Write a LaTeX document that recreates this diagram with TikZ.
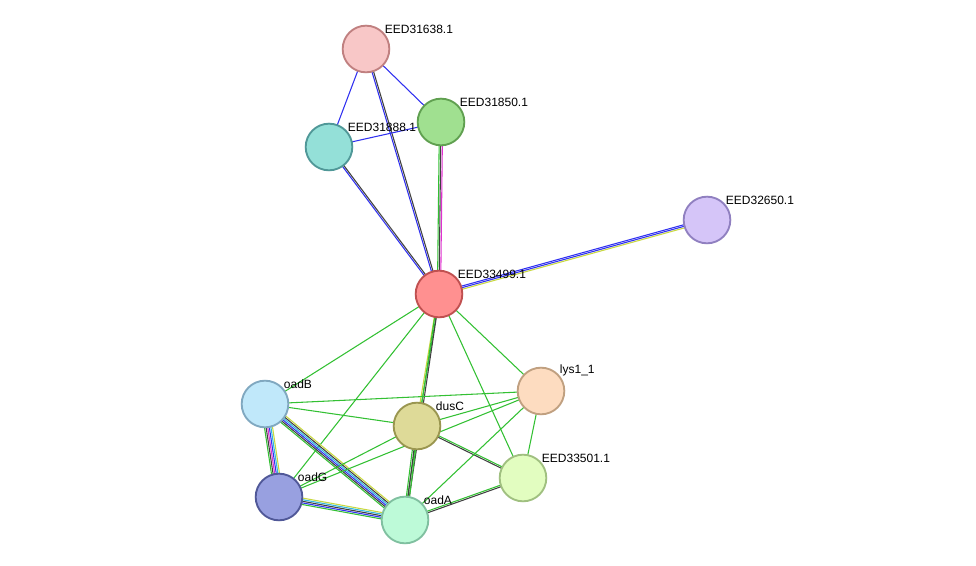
\documentclass[tikz,border=0pt]{standalone}
\usepackage{fontspec}
\setmainfont{Liberation Sans}
\usetikzlibrary{calc,backgrounds}
\definecolor{sgreen}{HTML}{33C033}
\definecolor{sblue}{HTML}{3030F0}
\definecolor{sgray}{HTML}{404040}
\definecolor{syg}{HTML}{C8D840}
\definecolor{scyan}{HTML}{30B8E0}
\definecolor{smag}{HTML}{E030D0}
\tikzset{
prot/.style={circle,draw,line width=1.4pt,minimum size=35pt,inner sep=0pt},
lbl/.style={font=\fontsize{9pt}{10pt}\selectfont,anchor=south west,inner sep=1pt}
}
% parallel lines between two nodes: #1 #2 nodes, #3 number of lines, #4 colours
\newcommand\bundle[4]{
  \foreach \c [count=\i] in {#4} {
    \pgfmathsetmacro\off{(\i-1-(#3-1)/2)*1.2}
    \draw[\c,line width=0.8pt] ($(#1)!\off pt!90:(#2)$) -- ($(#2)!\off pt!-90:(#1)$);
  }
}
\begin{document}
\begin{tikzpicture}[x=0.75pt,y=-0.75pt]
  \useasboundingbox (0,0) rectangle (976,566);

  \node[prot,fill={rgb,255:red,248;green,199;blue,199},draw={rgb,255:red,192;green,128;blue,128}] (e638) at (366,49) {};
  \node[prot,fill={rgb,255:red,160;green,224;blue,144},draw={rgb,255:red,96;green,160;blue,80}] (e850) at (441,122) {};
  \node[prot,fill={rgb,255:red,148;green,224;blue,216},draw={rgb,255:red,80;green,152;blue,152}] (e888) at (329,147) {};
  \node[prot,fill={rgb,255:red,213;green,197;blue,248},draw={rgb,255:red,144;green,128;blue,192}] (e650) at (707,220) {};
  \node[prot,fill={rgb,255:red,255;green,144;blue,144},draw={rgb,255:red,192;green,80;blue,80}] (e499) at (439,294) {};
  \node[prot,fill={rgb,255:red,192;green,232;blue,250},draw={rgb,255:red,128;green,168;blue,192}] (oadB) at (265,404) {};
  \node[prot,fill={rgb,255:red,222;green,218;blue,152},draw={rgb,255:red,154;green,150;blue,80}] (dusC) at (417,426) {};
  \node[prot,fill={rgb,255:red,253;green,220;blue,192},draw={rgb,255:red,192;green,160;blue,128}] (lys) at (541,391) {};
  \node[prot,fill={rgb,255:red,226;green,253;blue,192},draw={rgb,255:red,160;green,192;blue,128}] (e501) at (523,478) {};
  \node[prot,fill={rgb,255:red,152;green,160;blue,224},draw={rgb,255:red,80;green,88;blue,152}] (oadG) at (279,497) {};
  \node[prot,fill={rgb,255:red,189;green,250;blue,216},draw={rgb,255:red,128;green,192;blue,160}] (oadA) at (405,520) {};

  \node[lbl] at (e638.center) [xshift=13pt,yshift=10pt] {EED31638.1};
  \node[lbl] at (e850.center) [xshift=13pt,yshift=10pt] {EED31850.1};
  \node[lbl] at (e888.center) [xshift=13pt,yshift=10pt] {EED31888.1};
  \node[lbl] at (e650.center) [xshift=13pt,yshift=10pt] {EED32650.1};
  \node[lbl] at (e499.center) [xshift=13pt,yshift=10pt] {EED33499.1};
  \node[lbl] at (oadB.center) [xshift=13pt,yshift=10pt] {oadB};
  \node[lbl] at (dusC.center) [xshift=13pt,yshift=10pt] {dusC};
  \node[lbl] at (lys.center) [xshift=13pt,yshift=10pt] {lys1\_1};
  \node[lbl] at (e501.center) [xshift=13pt,yshift=10pt] {EED33501.1};
  \node[lbl] at (oadG.center) [xshift=13pt,yshift=10pt] {oadG};
  \node[lbl] at (oadA.center) [xshift=13pt,yshift=10pt] {oadA};

  \begin{scope}[on background layer]
    \bundle{e638}{e888}{1}{sblue}
    \bundle{e638}{e850}{1}{sblue}
    \bundle{e638}{e499}{2}{sblue,sgray}
    \bundle{e888}{e850}{1}{sblue}
    \bundle{e888}{e499}{2}{sblue,sgray}
    \bundle{e850}{e499}{3}{sgreen,sgray,smag}
    \bundle{e499}{e650}{3}{syg,sblue,sblue}
    \bundle{e499}{oadB}{1}{sgreen}
    \bundle{e499}{oadG}{1}{sgreen}
    \bundle{e499}{lys}{1}{sgreen}
    \bundle{e499}{e501}{1}{sgreen}
    \bundle{e499}{dusC}{2}{syg,sgreen}
    \bundle{e499}{oadA}{2}{sgreen,sgray}
    \bundle{oadB}{lys}{1}{sgreen}
    \bundle{oadB}{dusC}{1}{sgreen}
    \bundle{oadB}{oadG}{6}{sgreen,sgray,smag,sblue,scyan,syg}
    \bundle{oadB}{oadA}{6}{sgreen,sgray,sblue,scyan,sgray,syg}
    \bundle{dusC}{lys}{1}{sgreen}
    \bundle{dusC}{oadG}{1}{sgreen}
    \bundle{dusC}{e501}{2}{sgray,sgreen}
    \bundle{dusC}{oadA}{3}{sgreen,sgray,sgreen}
    \bundle{lys}{oadG}{1}{sgreen}
    \bundle{lys}{oadA}{1}{sgreen}
    \bundle{lys}{e501}{1}{sgreen}
    \bundle{oadG}{oadA}{5}{sgreen,sblue,sgray,scyan,syg}
    \bundle{oadA}{e501}{2}{sgray,sgreen}
  \end{scope}
\end{tikzpicture}
\end{document}
